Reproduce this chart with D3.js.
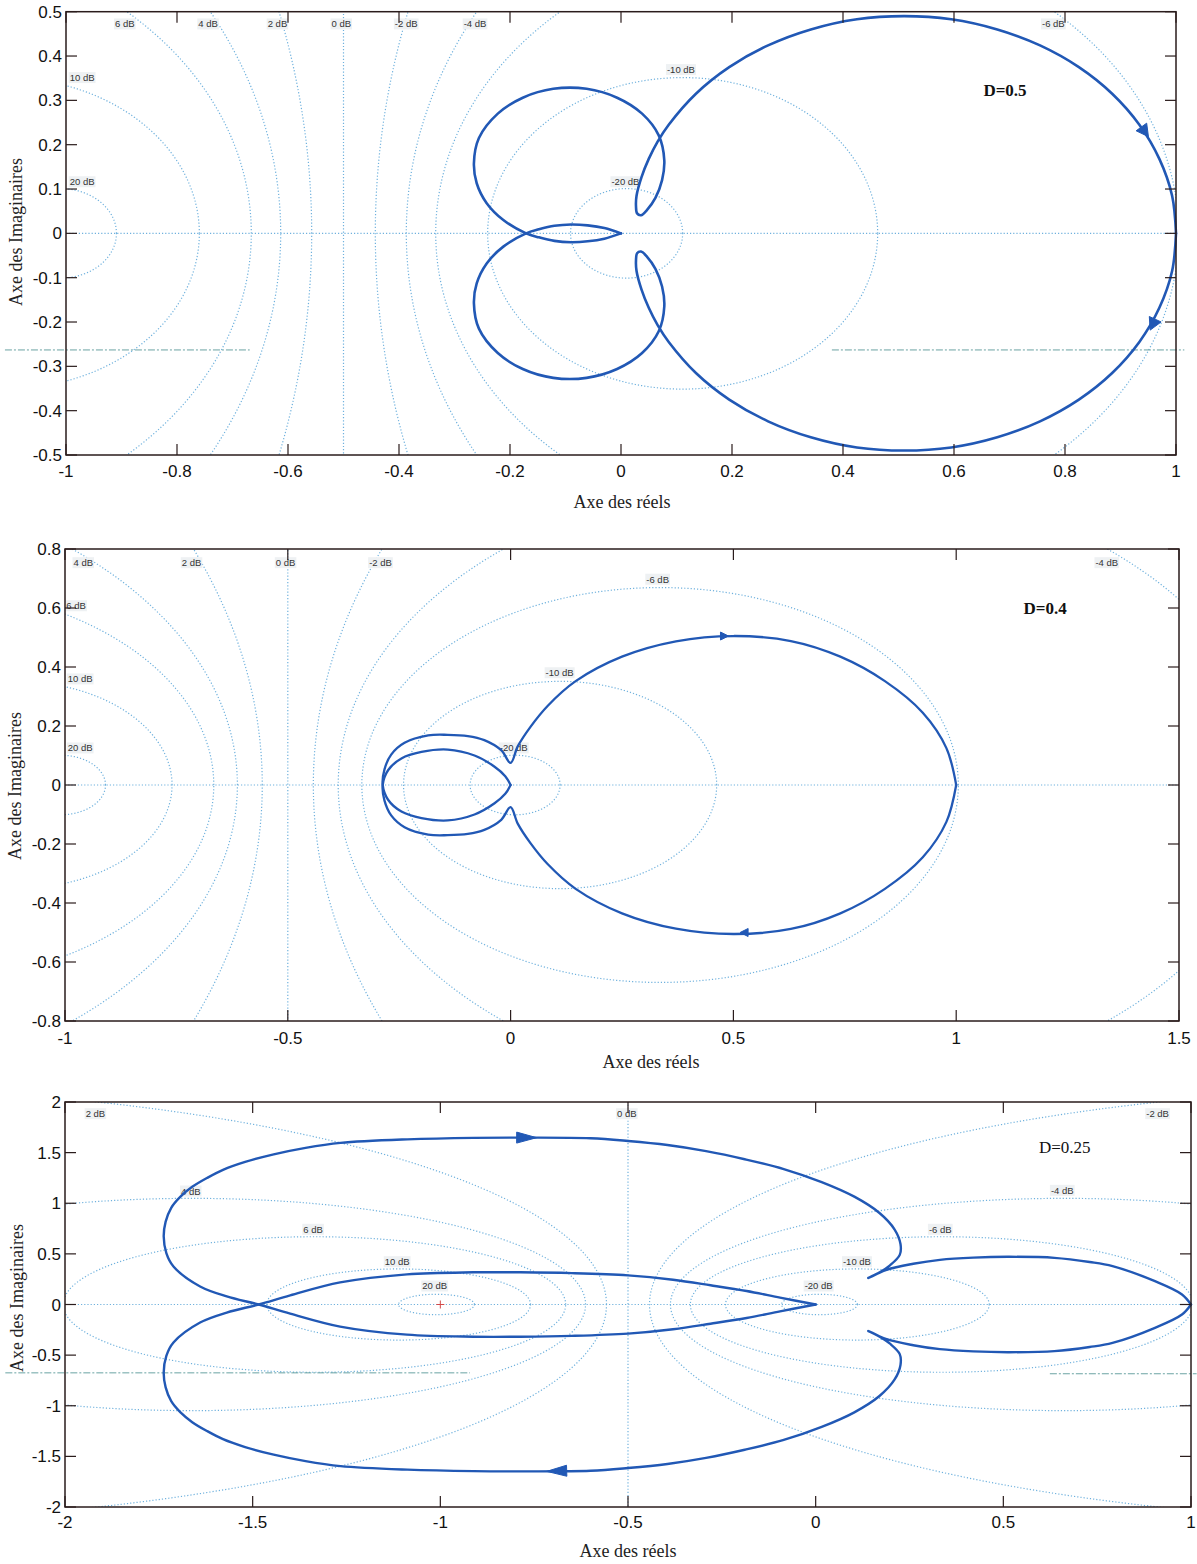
<!DOCTYPE html>
<html><head><meta charset="utf-8">
<script src="https://cdn.jsdelivr.net/npm/d3@7"></script>
<style>body{margin:0;background:#fff}</style>
</head><body>
<svg id="c" width="1197" height="1564" xmlns="http://www.w3.org/2000/svg"></svg>
<script>
// ---------- DATA ----------
const dBLevels = [-20, -10, -6, -4, -2, 0, 2, 4, 6, 10, 20];

// Panel 1 (D=0.5)
const p1Title = "D=0.5";
const p1XTicks = [-1, -0.8, -0.6, -0.4, -0.2, 0, 0.2, 0.4, 0.6, 0.8, 1];
const p1YTicks = [0.5, 0.4, 0.3, 0.2, 0.1, 0, -0.1, -0.2, -0.3, -0.4, -0.5];
// negative-frequency branch, from (0,0) to (1,0); the other branch is its conjugate
const p1Re = [0, -0.03, -0.06, -0.09, -0.12, -0.148, -0.171, -0.212, -0.242, -0.26, -0.265, -0.256, -0.222, -0.177, -0.122, -0.062, -0.007, 0.038, 0.068, 0.078, 0.074, 0.062, 0.047, 0.036, 0.029, 0.027, 0.028, 0.037, 0.05, 0.066, 0.086, 0.135, 0.195, 0.265, 0.342, 0.425, 0.51, 0.595, 0.678, 0.755, 0.825, 0.885, 0.934, 0.97, 0.993, 1.0];
const p1Im = [0, -0.012, -0.018, -0.02, -0.017, -0.009, 0, 0.03, 0.068, 0.113, 0.158, 0.215, 0.27, 0.306, 0.326, 0.326, 0.306, 0.27, 0.221, 0.165, 0.12, 0.08, 0.053, 0.041, 0.045, 0.062, 0.085, 0.127, 0.168, 0.207, 0.245, 0.315, 0.375, 0.424, 0.46, 0.483, 0.49, 0.483, 0.46, 0.424, 0.375, 0.315, 0.245, 0.168, 0.085, 0];

// Panel 2 (D=0.4)
const p2Title = "D=0.4";
const p2XTicks = [-1, -0.5, 0, 0.5, 1, 1.5];
const p2YTicks = [0.8, 0.6, 0.4, 0.2, 0, -0.2, -0.4, -0.6, -0.8];
const p2Re = [0, -0.012, -0.036, -0.081, -0.141, -0.2, -0.245, -0.275, -0.287, -0.283, -0.268, -0.238, -0.185, -0.141, -0.096, -0.059, -0.021, 0.0, 0.016, 0.045, 0.083, 0.146, 0.25, 0.371, 0.5, 0.629, 0.74, 0.84, 0.925, 0.978, 1.0];
const p2Im = [0, -0.03, -0.062, -0.1, -0.12, -0.112, -0.09, -0.05, 0, 0.053, 0.103, 0.143, 0.168, 0.17, 0.166, 0.152, 0.118, 0.075, 0.131, 0.198, 0.268, 0.352, 0.435, 0.487, 0.505, 0.488, 0.435, 0.352, 0.245, 0.125, 0];

// Panel 3 (D=0.25)
const p3Title = "D=0.25";
const p3XTicks = [-2, -1.5, -1, -0.5, 0, 0.5, 1];
const p3YTicks = [2, 1.5, 1, 0.5, 0, -0.5, -1, -1.5, -2];
const p3Re = [0, -0.095, -0.184, -0.28, -0.38, -0.5, -0.65, -0.787, -0.912, -1.089, -1.267, -1.4, -1.484, -1.569, -1.64, -1.711, -1.73, -1.737, -1.732, -1.717, -1.693, -1.661, -1.621, -1.579, -1.52, -1.444, -1.359, -1.266, -1.088, -0.912, -0.787, -0.6, -0.5, -0.395, -0.292, -0.189, -0.085, 0.016, 0.103, 0.17, 0.21, 0.226, 0.224, 0.198, 0.167, 0.14, 0.189, 0.26, 0.331, 0.42, 0.512, 0.636, 0.73, 0.791, 0.904, 0.976, 1.0];
const p3Im = [0, -0.068, -0.133, -0.19, -0.245, -0.288, -0.31, -0.318, -0.318, -0.298, -0.218, -0.09, 0, 0.08, 0.178, 0.375, 0.507, 0.671, 0.816, 0.955, 1.063, 1.162, 1.251, 1.33, 1.408, 1.483, 1.547, 1.596, 1.631, 1.646, 1.648, 1.642, 1.615, 1.575, 1.515, 1.435, 1.338, 1.209, 1.065, 0.904, 0.743, 0.597, 0.49, 0.387, 0.31, 0.262, 0.343, 0.402, 0.441, 0.463, 0.471, 0.461, 0.42, 0.379, 0.23, 0.099, 0];

// ---------- LAYOUT ----------
const panels = [
  { title: p1Title, bold: true, re: p1Re, im: p1Im, xT: p1XTicks, yT: p1YTicks,
    xDom: [-1, 1], yDom: [-0.5, 0.5], box: [66, 11.7, 1176, 455],
    titlePos: [0.653, 0.31], xlab: [622, 508], ylab: [22, 232], tickOff: 22,
    lw: 2.6, arrow: { len: 12, hw: 6.5, at: [[0.944, 0.229, 0], [0.958, -0.206, 1]] },
    labels: [["6 dB", -0.894, 0.472], ["4 dB", -0.744, 0.472], ["2 dB", -0.619, 0.472], ["0 dB", -0.504, 0.472], ["-2 dB", -0.387, 0.472], ["-4 dB", -0.263, 0.472], ["-6 dB", 0.779, 0.472], ["-10 dB", 0.108, 0.369], ["-20 dB", 0.008, 0.116], ["10 dB", -0.971, 0.351], ["20 dB", -0.971, 0.116]],
    artifacts: [[-1.11, -0.669, -0.263], [0.38, 1.015, -0.263]], plus: false },
  { title: p2Title, bold: true, re: p2Re, im: p2Im, xT: p2XTicks, yT: p2YTicks,
    xDom: [-1, 1.5], yDom: [-0.8, 0.8], box: [65, 549, 1179, 1021],
    titlePos: [1.151, 0.58], xlab: [651, 1068], ylab: [21, 786], tickOff: 23,
    lw: 2.3, arrow: { len: 8, hw: 4, at: [[0.48, 0.505, 0], [0.524, -0.5, 1]] },
    labels: [["4 dB", -0.959, 0.753], ["2 dB", -0.716, 0.753], ["0 dB", -0.505, 0.753], ["-2 dB", -0.292, 0.753], ["6 dB", -0.975, 0.607], ["10 dB", -0.966, 0.359], ["20 dB", -0.966, 0.125], ["-20 dB", 0.007, 0.125], ["-10 dB", 0.11, 0.38], ["-6 dB", 0.33, 0.697], ["-4 dB", 1.338, 0.753]],
    artifacts: [], plus: false },
  { title: p3Title, bold: false, re: p3Re, im: p3Im, xT: p3XTicks, yT: p3YTicks,
    xDom: [-2, 1], yDom: [-2, 2], box: [65, 1102, 1191, 1507],
    titlePos: [0.595, 1.5], xlab: [628, 1557], ylab: [23, 1298], tickOff: 21,
    lw: 2.4, arrow: { len: 20, hw: 5.5, at: [[-0.77, 1.648, 0], [-0.69, -1.645, 1]] },
    labels: [["2 dB", -1.919, 1.883], ["4 dB", -1.665, 1.119], ["6 dB", -1.339, 0.741], ["10 dB", -1.115, 0.421], ["20 dB", -1.015, 0.181], ["0 dB", -0.503, 1.883], ["-2 dB", 0.911, 1.883], ["-4 dB", 0.657, 1.126], ["-6 dB", 0.332, 0.741], ["-10 dB", 0.11, 0.421], ["-20 dB", 0.008, 0.181]],
    artifacts: [[-2.159, -0.921, -0.675], [0.624, 1.015, -0.684]], plus: true }
];

const NYQ = "#2158b5", GRID = "#6fb1dd", AXC = "#2a1c1c";
const svg = d3.select("#c");

panels.forEach((P, pi) => {
  const [x0, y0, x1, y1] = P.box;
  const sx = d3.scaleLinear().domain(P.xDom).range([x0, x1]);
  const sy = d3.scaleLinear().domain(P.yDom).range([y1, y0]);
  const g = svg.append("g");
  const clipId = "clip" + pi, clipId2 = "clipw" + pi;
  const defs = svg.append("defs");
  defs.append("clipPath").attr("id", clipId).append("rect").attr("x", x0).attr("y", y0).attr("width", x1 - x0).attr("height", y1 - y0);
  defs.append("clipPath").attr("id", clipId2).append("rect").attr("x", x0 - 2).attr("y", y0 - 2).attr("width", x1 - x0 + 4).attr("height", y1 - y0 + 4);

  // M-circle grid
  const grid = g.append("g").attr("clip-path", `url(#${clipId})`)
    .attr("fill", "none").attr("stroke", GRID).attr("stroke-width", 1.2).attr("stroke-dasharray", "1.2,2");
  const line = d3.line().x(d => sx(d[0])).y(d => sy(d[1]));
  dBLevels.forEach(db => {
    if (db === 0) {
      grid.append("path").attr("d", line([[-0.5, P.yDom[0] - 1], [-0.5, P.yDom[1] + 1]]));
    } else {
      const M = Math.pow(10, db / 20), M2 = M * M;
      const c = -M2 / (M2 - 1), r = Math.abs(M / (M2 - 1));
      const pts = d3.range(0, 1441).map(k => { const t = k / 1440 * 2 * Math.PI; return [c + r * Math.cos(t), r * Math.sin(t)]; });
      grid.append("path").attr("d", line(pts));
    }
  });
  grid.append("path").attr("d", line([[P.xDom[0], 0], [P.xDom[1], 0]]));

  // artifact dash lines
  P.artifacts.forEach(a => {
    g.append("line").attr("x1", sx(a[0])).attr("x2", sx(a[1])).attr("y1", sy(a[2])).attr("y2", sy(a[2]))
      .attr("stroke", "#5b9a9a").attr("stroke-width", 1).attr("stroke-dasharray", "7,2,2,2").attr("opacity", 0.9);
  });

  // dB labels
  P.labels.forEach(l => {
    const t = g.append("text").attr("x", sx(l[1])).attr("y", sy(l[2])).attr("text-anchor", "middle")
      .attr("dy", "0.35em").attr("font-family", "Liberation Sans, Arial, sans-serif").attr("font-size", 9.5)
      .attr("fill", "#333").text(l[0]);
    const bb = t.node().getBBox();
    g.insert("rect", () => t.node()).attr("x", bb.x - 1).attr("y", bb.y).attr("width", bb.width + 2).attr("height", bb.height)
      .attr("fill", "#eef1f3");
  });

  // critical point marker
  if (P.plus) {
    const cx = sx(-1), cy = sy(0);
    g.append("path").attr("d", `M${cx - 4},${cy}H${cx + 4}M${cx},${cy - 4}V${cy + 4}`).attr("stroke", "#d24a4a").attr("stroke-width", 1);
  }

  // Nyquist curve
  const pts = P.re.map((x, i) => [x, P.im[i]]);
  const mir = pts.map(p => [p[0], -p[1]]);
  const curve = d3.line().x(d => sx(d[0])).y(d => sy(d[1])).curve(d3.curveCatmullRom.alpha(0.5));
  const cg = g.append("g").attr("clip-path", `url(#${clipId2})`);
  [pts, mir].forEach(arr => {
    cg.append("path").attr("d", curve(arr)).attr("fill", "none").attr("stroke", NYQ)
      .attr("stroke-width", P.lw).attr("stroke-linejoin", "round").attr("stroke-linecap", "round");
  });

  // arrows
  P.arrow.at.forEach(a => {
    const arr = a[2] ? mir : pts;
    let best = 0, bd = Infinity;
    arr.forEach((p, i) => { const d = (p[0] - a[0]) ** 2 + ((p[1] - a[1]) * 0.7) ** 2; if (d < bd) { bd = d; best = i; } });
    const i0 = Math.max(0, best - 1), i1 = Math.min(arr.length - 1, best + 1);
    let dx = sx(arr[i1][0]) - sx(arr[i0][0]), dy = sy(arr[i1][1]) - sy(arr[i0][1]);
    if (a[2]) { dx = -dx; dy = -dy; }
    const L = Math.hypot(dx, dy); dx /= L; dy /= L;
    const cx = sx(a[0]), cy = sy(a[1]);
    const tip = [cx + dx * P.arrow.len / 2, cy + dy * P.arrow.len / 2];
    const bx = cx - dx * P.arrow.len / 2, by = cy - dy * P.arrow.len / 2;
    const nx = -dy, ny = dx;
    g.append("path").attr("d", `M${tip[0]},${tip[1]}L${bx + nx * P.arrow.hw},${by + ny * P.arrow.hw}L${bx - nx * P.arrow.hw},${by - ny * P.arrow.hw}Z`)
      .attr("fill", NYQ).attr("stroke", NYQ).attr("stroke-width", 1);
  });

  // axes box and ticks
  const ax = g.append("g").attr("stroke", AXC).attr("fill", "none");
  ax.append("rect").attr("x", x0).attr("y", y0).attr("width", x1 - x0).attr("height", y1 - y0).attr("stroke-width", 1.5);
  const tl = 11;
  P.xT.forEach(v => {
    const x = sx(v);
    ax.append("line").attr("x1", x).attr("x2", x).attr("y1", y1).attr("y2", y1 - tl).attr("stroke-width", 1.2);
    ax.append("line").attr("x1", x).attr("x2", x).attr("y1", y0).attr("y2", y0 + tl).attr("stroke-width", 1.2);
    g.append("text").attr("x", x).attr("y", y1 + P.tickOff).attr("text-anchor", "middle")
      .attr("font-family", "Liberation Sans, Arial, sans-serif").attr("font-size", 17).attr("fill", "#111").text(String(v));
  });
  P.yT.forEach(v => {
    const y = sy(v);
    ax.append("line").attr("x1", x0).attr("x2", x0 + tl).attr("y1", y).attr("y2", y).attr("stroke-width", 1.2);
    ax.append("line").attr("x1", x1).attr("x2", x1 - tl).attr("y1", y).attr("y2", y).attr("stroke-width", 1.2);
    g.append("text").attr("x", x0 - 4).attr("y", y).attr("dy", "0.36em").attr("text-anchor", "end")
      .attr("font-family", "Liberation Sans, Arial, sans-serif").attr("font-size", 17).attr("fill", "#111").text(String(v));
  });

  // axis titles
  g.append("text").attr("x", P.xlab[0]).attr("y", P.xlab[1]).attr("text-anchor", "middle")
    .attr("font-family", "Liberation Serif, Times New Roman, serif").attr("font-size", 18).attr("fill", "#222").text("Axe des réels");
  g.append("text").attr("transform", `translate(${P.ylab[0]},${P.ylab[1]}) rotate(-90)`).attr("text-anchor", "middle")
    .attr("font-family", "Liberation Serif, Times New Roman, serif").attr("font-size", 18).attr("fill", "#222").text("Axe des Imaginaires");

  // D label
  g.append("text").attr("x", sx(P.titlePos[0])).attr("y", sy(P.titlePos[1]))
    .attr("font-family", "Liberation Serif, Times New Roman, serif").attr("font-size", 17)
    .attr("font-weight", P.bold ? "bold" : "normal").attr("fill", "#111").text(P.title);
});
</script>
</body></html>
